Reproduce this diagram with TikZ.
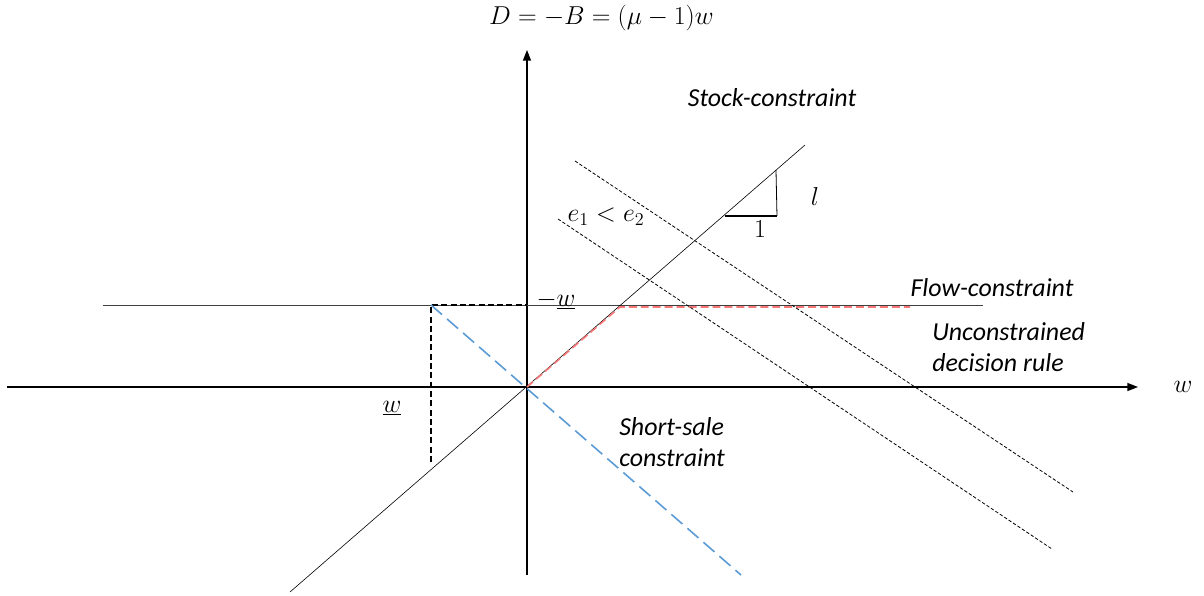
\RequirePackage{fix-cm}
\documentclass[tikz,border=0pt]{standalone}
\usepackage{fontspec}
\setmainfont{Carlito}
\usetikzlibrary{arrows.meta}
\definecolor{rulered}{RGB}{248,120,120}
\definecolor{saleblue}{RGB}{91,155,213}
\begin{document}
\begin{tikzpicture}[x=2.646cm, y=2.646cm,
	axis/.style={line width=1.1pt, -{Triangle[length=8pt, width=6pt]}},
	budget/.style={line width=0.6pt, dash pattern=on 2.5pt off 1.5pt},
	lbl/.style={font=\itshape\fontsize{19.5}{23}\selectfont, align=left, inner sep=0pt},
	mth/.style={font=\fontsize{19.5}{23}\selectfont, inner sep=0pt}]
	\useasboundingbox (-5.27, -2.08) rectangle (6.77, 3.87);
	% axes
	\coordinate (O) at (0, 0);
	\coordinate (xl) at (-5.2, 0);
	\coordinate (xr) at (6.11, 0);
	\coordinate (yb) at (0, -1.88);
	\coordinate (yt) at (0, 3.37);
	\draw[axis] (xl) -- (xr);
	\draw[axis] (yb) -- (yt);
	% constraints
	\coordinate (fl) at (-4.24, 0.82);
	\coordinate (fr) at (4.56, 0.82);
	\coordinate (sl) at (-2.37, -2.05);
	\coordinate (sr) at (2.78, 2.42);
	\coordinate (wl) at (-0.96, 0.82);
	\coordinate (wy) at (0, 0.82);
	\coordinate (wb) at (-0.96, -0.75);
	\coordinate (bl) at (2.14, -1.88);
	\draw[black!75, line width=0.6pt] (fl) -- (fr);
	\draw[line width=0.45pt] (sl) -- (sr);
	\draw[line width=0.9pt, dash pattern=on 4.5pt off 2.5pt] (wb) -- (wl) -- (wy);
	\draw[saleblue, line width=1.2pt, dash pattern=on 11pt off 5pt] (wl) -- (bl);
	% decision rule
	\coordinate (k) at (0.93, 0.80);
	\coordinate (re) at (3.83, 0.80);
	\draw[rulered, line width=1.2pt, dash pattern=on 6pt off 3pt] (O) -- (k) -- (re);
	% budget lines
	\coordinate (a1) at (0.48, 2.26);
	\coordinate (a2) at (5.46, -1.05);
	\coordinate (b1) at (0.31, 1.68);
	\coordinate (b2) at (5.25, -1.62);
	\draw[budget] (a1) -- (a2);
	\draw[budget] (b1) -- (b2);
	% slope triangle
	\coordinate (t1) at (1.98, 1.71);
	\coordinate (t2) at (2.50, 1.71);
	\coordinate (t3) at (2.49, 2.17);
	\draw[line width=1.1pt] (t1) -- (t2);
	\draw[line width=0.6pt] (t2) -- (t3);
	% labels
	\node[mth] (title) at (0.745, 3.69) {$D=-B=(\mu-1)w$};
	\node[mth] (wax) at (6.56, 0) {$w$};
	\node[mth] (one) at (2.33, 1.58) {$1$};
	\node[mth] (ell) at (2.88, 1.9) {$l$};
	\node[mth] (ee) at (0.79, 1.7) {$e_1<e_2$};
	\node[mth] (mw) at (0.29, 0.87) {$-\underline{w}$};
	\node[mth] (lw) at (-1.35, -0.21) {$\underline{w}$};
	\node[lbl] (stock) at (2.45, 2.89) {Stock-constraint};
	\node[lbl] (flow) at (4.65, 0.99) {Flow-constraint};
	\node[lbl, anchor=west] (unc) at (4.05, 0.4) {Unconstrained\\decision rule};
	\node[lbl, anchor=west] (short) at (0.92, -0.55) {Short-sale\\constraint};
\end{tikzpicture}
\end{document}
